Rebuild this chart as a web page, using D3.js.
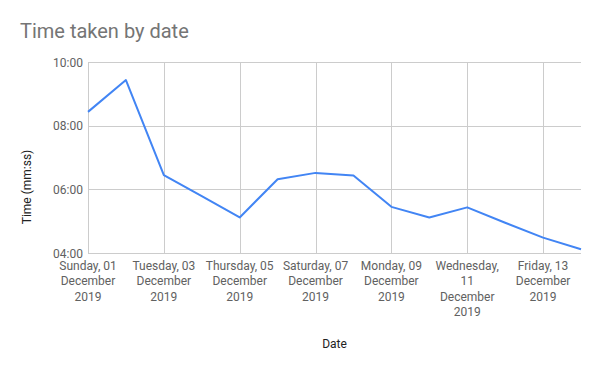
<!DOCTYPE html>
<html><head><meta charset="utf-8">
<script src="https://cdn.jsdelivr.net/npm/d3@7/dist/d3.min.js"></script>
<style>body{margin:0;background:#fff}svg{display:block;font-family:Roboto,Arial,sans-serif}</style>
</head><body><svg id="c" width="600" height="371"></svg>
<script>
const dates = ["2019-12-01","2019-12-02","2019-12-03","2019-12-04","2019-12-05","2019-12-06","2019-12-07","2019-12-08","2019-12-09","2019-12-10","2019-12-11","2019-12-12","2019-12-13","2019-12-14"];
const times = ["08:26","09:26","06:27","05:47","05:07","06:19","06:31","06:26","05:27","05:07","05:26","04:57","04:29","04:07"];
const yTicks = ["04:00","06:00","08:00","10:00"];
const xTickDates = ["2019-12-01","2019-12-03","2019-12-05","2019-12-07","2019-12-09","2019-12-11","2019-12-13"];
const xTickLabels = [
  ["Sunday, 01","December","2019"],
  ["Tuesday, 03","December","2019"],
  ["Thursday, 05","December","2019"],
  ["Saturday, 07","December","2019"],
  ["Monday, 09","December","2019"],
  ["Wednesday,","11","December","2019"],
  ["Friday, 13","December","2019"]
];
const title = "Time taken by date";
const xTitle = "Date", yTitle = "Time (mm:ss)";

const toMin = s => { const [m, sec] = s.split(":").map(Number); return m + sec / 60; };
const parse = d3.utcParse("%Y-%m-%d");
const data = dates.map((d, i) => ({ d: parse(d), v: toMin(times[i]) }));

const L = 88, R = 581, T = 62, B = 253;
const x = d3.scaleUtc().domain([parse(dates[0]), parse(dates[dates.length - 1])]).range([L, R]);
const y = d3.scaleLinear().domain([toMin(yTicks[0]), toMin(yTicks[yTicks.length - 1])]).range([B, T]);

const svg = d3.select("#c");
svg.append("text").attr("x", 20).attr("y", 38).attr("font-size", 20).attr("fill", "#757575").text(title);

const g = svg.append("g");
g.selectAll(".hg").data(yTicks).join("line")
  .attr("x1", L).attr("x2", R).attr("y1", d => Math.round(y(toMin(d))) + 0.5).attr("y2", d => Math.round(y(toMin(d))) + 0.5)
  .attr("stroke", "#cccccc").attr("stroke-width", 1);
g.selectAll(".vg").data(xTickDates).join("line")
  .attr("y1", T).attr("y2", B).attr("x1", d => Math.round(x(parse(d))) + 0.5).attr("x2", d => Math.round(x(parse(d))) + 0.5)
  .attr("stroke", "#cccccc").attr("stroke-width", 1);

g.selectAll(".yl").data(yTicks).join("text")
  .attr("x", L - 5).attr("y", d => y(toMin(d)) + 4.5).attr("text-anchor", "end")
  .attr("font-size", 12).attr("fill", "#616161").text(d => d);

xTickDates.forEach((d, i) => {
  const t = g.append("text").attr("text-anchor", "middle").attr("font-size", 12).attr("fill", "#616161");
  const cx = x(parse(d));
  xTickLabels[i].forEach((ln, k) => t.append("tspan").attr("x", cx).attr("y", 270 + k * 15.4).text(ln));
});

svg.append("text").attr("x", (L + R) / 2).attr("y", 348).attr("text-anchor", "middle")
  .attr("font-size", 12).attr("fill", "#222").text(xTitle);
svg.append("text").attr("transform", "translate(31,187) rotate(-90)").attr("text-anchor", "middle")
  .attr("font-size", 12).attr("fill", "#222").text(yTitle);

svg.append("path").datum(data)
  .attr("d", d3.line().x(d => x(d.d)).y(d => y(d.v)))
  .attr("fill", "none").attr("stroke", "#4285f4").attr("stroke-width", 2).attr("stroke-linejoin", "round");
</script></body></html>
